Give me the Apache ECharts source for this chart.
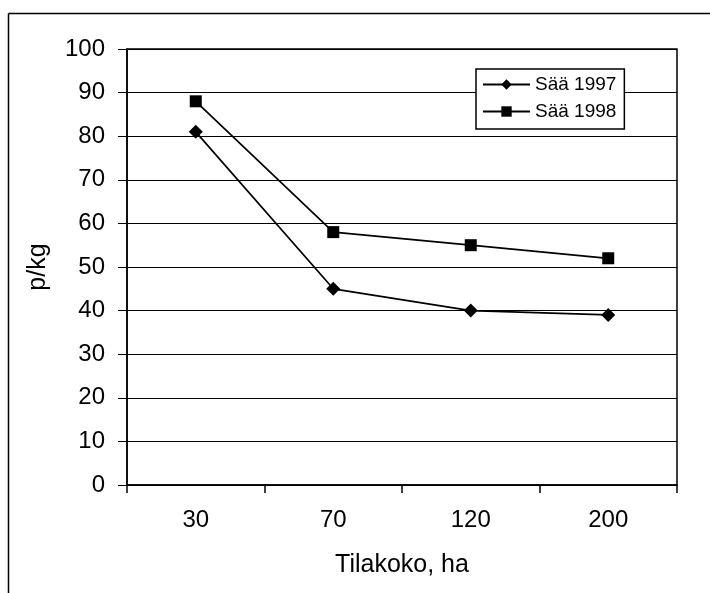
<!DOCTYPE html>
<html>
<head>
<meta charset="utf-8">
<title>p/kg – Tilakoko</title>
<script src="https://cdn.jsdelivr.net/npm/echarts@6/dist/echarts.min.js"></script>
<style>
  html, body { margin: 0; padding: 0; background: #fff; }
  #chart { width: 710px; height: 593px; }
</style>
</head>
<body>
<div id="chart"></div>
<script>
// Farm size classes (ha) and price per kg for each year
const categories = ['30', '70', '120', '200'];
const saa1997 = [81, 45, 40, 39];
const saa1998 = [88, 58, 55, 52];
const yTicks = { min: 0, max: 100, interval: 10 };

const FONT = '"Liberation Sans", Arial, sans-serif';
const chart = echarts.init(document.getElementById('chart'), null, { renderer: 'canvas' });

chart.setOption({
  backgroundColor: '#fff',
  animation: false,
  textStyle: { fontFamily: FONT, color: '#000' },
  graphic: [
    // outer frame (top and left edges)
    { type: 'line', shape: { x1: 8.5, y1: 13.5, x2: 710, y2: 13.5 }, style: { stroke: '#000', lineWidth: 1.5 } },
    { type: 'line', shape: { x1: 8.5, y1: 13.5, x2: 8.5, y2: 593 }, style: { stroke: '#000', lineWidth: 1.5 } }
  ],
  grid: {
    left: 127, right: 33, top: 49, bottom: 108,
    show: true, borderColor: '#000', borderWidth: 1.5, backgroundColor: 'transparent'
  },
  legend: {
    orient: 'vertical',
    left: 476, top: 69,
    backgroundColor: '#fff',
    borderColor: '#000', borderWidth: 1.5, borderRadius: 0,
    padding: [6, 8, 8, 6],
    itemGap: 8,
    itemWidth: 47, itemHeight: 13,
    textStyle: { fontFamily: FONT, fontSize: 19, color: '#000' },
    data: ['Sää 1997', 'Sää 1998']
  },
  xAxis: {
    type: 'category',
    data: categories,
    boundaryGap: true,
    name: 'Tilakoko, ha',
    nameLocation: 'middle',
    nameGap: 68,
    nameTextStyle: { fontFamily: FONT, fontSize: 25, color: '#000' },
    axisLine: { lineStyle: { color: '#000', width: 1.5 } },
    axisTick: { show: true, length: 8, inside: false, lineStyle: { color: '#000', width: 1.5 } },
    axisLabel: { fontFamily: FONT, fontSize: 24, color: '#000', margin: 23 },
    splitLine: { show: false }
  },
  yAxis: {
    type: 'value',
    min: yTicks.min, max: yTicks.max, interval: yTicks.interval,
    name: 'p/kg',
    nameLocation: 'middle',
    nameRotate: 90,
    nameGap: 76,
    nameTextStyle: { fontFamily: FONT, fontSize: 25, color: '#000' },
    axisLine: { show: true, lineStyle: { color: '#000', width: 1.5 } },
    axisTick: { show: true, length: 9, inside: false, lineStyle: { color: '#000', width: 1 } },
    axisLabel: { fontFamily: FONT, fontSize: 24, color: '#000', margin: 22 },
    splitLine: { show: true, lineStyle: { color: '#000', width: 1 } }
  },
  series: [
    {
      name: 'Sää 1997',
      type: 'line',
      data: saa1997,
      symbol: 'diamond',
      symbolSize: 14,
      itemStyle: { color: '#000' },
      lineStyle: { color: '#000', width: 1.7 }
    },
    {
      name: 'Sää 1998',
      type: 'line',
      data: saa1998,
      symbol: 'rect',
      symbolSize: 12,
      itemStyle: { color: '#000' },
      lineStyle: { color: '#000', width: 1.7 }
    }
  ]
});
</script>
</body>
</html>
